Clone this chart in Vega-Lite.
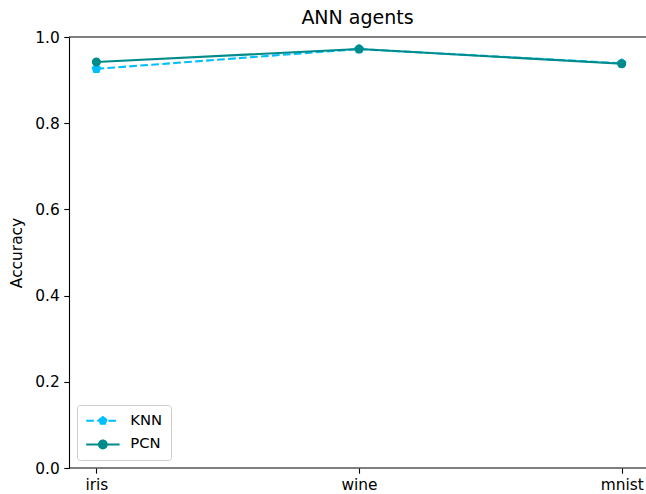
{
  "$schema": "https://vega.github.io/schema/vega-lite/v6.json",
  "width": 577,
  "height": 431,
  "autosize": {"type": "none"},
  "padding": {"left": 69, "top": 37, "right": 0, "bottom": 26},
  "background": "white",
  "config": {"view": {"stroke": null}},
  "title": {"text": "ANN agents", "fontSize": 19, "font": "DejaVu Sans", "fontWeight": "normal", "color": "black", "offset": 2, "anchor": "middle"},
  "data": {"values": [
    {"dataset": "iris", "model": "KNN", "acc": 0.926},
    {"dataset": "wine", "model": "KNN", "acc": 0.972},
    {"dataset": "mnist", "model": "KNN", "acc": 0.939},
    {"dataset": "iris", "model": "PCN", "acc": 0.942},
    {"dataset": "wine", "model": "PCN", "acc": 0.972},
    {"dataset": "mnist", "model": "PCN", "acc": 0.938}
  ]},
  "layer": [
    {
      "transform": [{"filter": "datum.model === 'KNN'"}],
      "mark": {"type": "line", "color": "#00bfff", "strokeWidth": 2.08, "strokeDash": [7.7, 3.3]},
      "encoding": {
        "x": {"field": "dataset", "type": "nominal", "scale": {"type": "point", "domain": ["iris", "wine", "mnist"], "range": [27.4, 552.7], "padding": 0},
          "axis": {"title": null, "domain": false, "ticks": true, "tickSize": 5.2, "tickWidth": 1.1, "tickColor": "black", "labelFont": "DejaVu Sans", "labelFontSize": 15.4, "labelColor": "black", "labelPadding": 4.5, "labelAngle": 0, "grid": false}},
        "y": {"field": "acc", "type": "quantitative", "scale": {"domain": [0, 1], "nice": false, "zero": true},
          "axis": {"title": "Accuracy", "values": [0, 0.2, 0.4, 0.6, 0.8, 1], "format": ".1f", "domainColor": "black", "domainWidth": 1.1, "tickSize": 5.2, "tickWidth": 1.1, "tickColor": "black", "labelFont": "DejaVu Sans", "labelFontSize": 15.4, "labelColor": "black", "labelPadding": 4.5, "titleFont": "DejaVu Sans", "titleFontSize": 15.4, "titleFontWeight": "normal", "titleColor": "black", "titlePadding": 10, "grid": false}}
      }
    },
    {
      "transform": [{"filter": "datum.model === 'KNN'"}],
      "mark": {"type": "point", "filled": true, "shape": "M0,-1L0.951,-0.309L0.588,0.809L-0.588,0.809L-0.951,-0.309Z", "size": 72, "fill": "#00bfff", "stroke": "#00bfff", "strokeWidth": 1.4, "opacity": 1},
      "encoding": {
        "x": {"field": "dataset", "type": "nominal"},
        "y": {"field": "acc", "type": "quantitative"}
      }
    },
    {
      "transform": [{"filter": "datum.model === 'PCN'"}],
      "mark": {"type": "line", "color": "#008b8b", "strokeWidth": 2.08},
      "encoding": {
        "x": {"field": "dataset", "type": "nominal"},
        "y": {"field": "acc", "type": "quantitative"}
      }
    },
    {
      "transform": [{"filter": "datum.model === 'PCN'"}],
      "mark": {"type": "point", "filled": true, "shape": "circle", "size": 58, "fill": "#008b8b", "stroke": "#008b8b", "strokeWidth": 1.4, "opacity": 1},
      "encoding": {
        "x": {"field": "dataset", "type": "nominal"},
        "y": {"field": "acc", "type": "quantitative"}
      }
    },
    {
      "data": {"values": [{}]},
      "mark": {"type": "rule", "color": "black", "strokeWidth": 1.1},
      "encoding": {"y": {"datum": 1, "type": "quantitative"}}
    },
    {
      "data": {"values": [{}]},
      "mark": {"type": "rule", "color": "black", "strokeWidth": 1.1},
      "encoding": {"y": {"datum": 0, "type": "quantitative"}}
    },
    {
      "transform": [{"filter": "datum.acc > 1"}],
      "mark": {"type": "point", "filled": true, "opacity": 1},
      "encoding": {
        "x": {"field": "dataset", "type": "nominal"},
        "y": {"field": "acc", "type": "quantitative"},
        "color": {"field": "model", "type": "nominal", "scale": {"domain": ["KNN", "PCN"], "range": ["#00bfff", "#008b8b"]},
          "legend": {"title": null, "orient": "bottom-left", "offset": 8, "padding": 8.3, "fillColor": "white", "strokeColor": "#cccccc", "cornerRadius": 3, "labelFont": "DejaVu Sans", "labelFontSize": 14.8, "labelColor": "black", "symbolOffset": 10.2, "labelOffset": 20, "rowPadding": 7.8, "symbolSize": 69.6, "symbolStrokeWidth": 0, "labelBaseline": "middle"}},
        "shape": {"field": "model", "type": "nominal", "scale": {"domain": ["KNN", "PCN"], "range": [
          "M-4,-0.25H-2.15V0.25H-4Z M-1.35,-0.25H0.5V0.25H-1.35Z M1.3,-0.25H3.15V0.25H1.3Z M0,-1.17L1.113,-0.362L0.688,0.947L-0.688,0.947L-1.113,-0.362Z",
          "M-4,-0.25H4V0.25H-4Z M0,-1.17A1.17,1.17,0,1,1,0,1.17A1.17,1.17,0,1,1,0,-1.17Z"
        ]}}
      }
    }
  ]
}
